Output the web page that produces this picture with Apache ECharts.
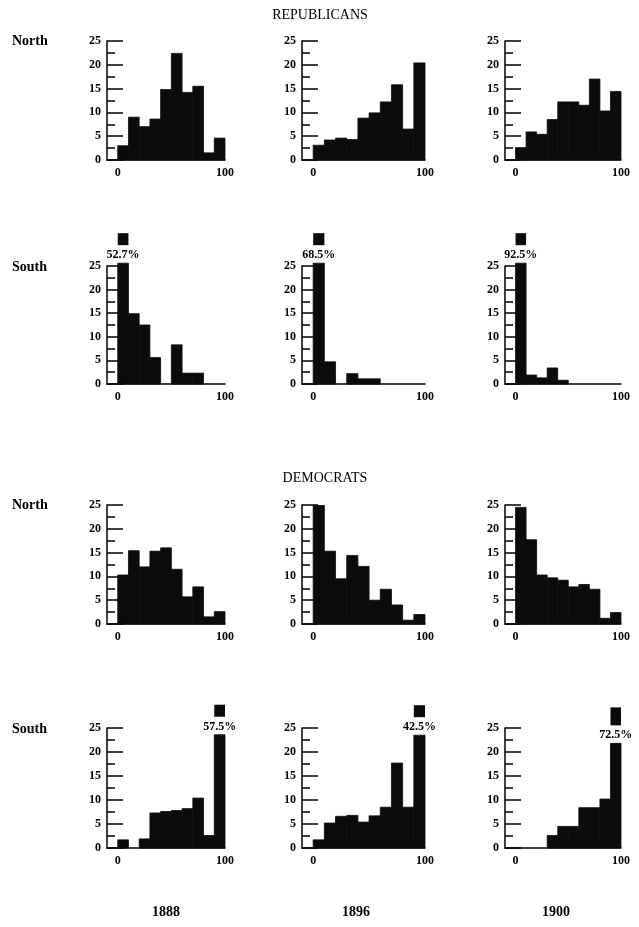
<!DOCTYPE html>
<html>
<head>
<meta charset="UTF-8">
<script src="https://cdn.jsdelivr.net/npm/echarts@6/dist/echarts.min.js"></script>
<style>body{margin:0;background:#fff;}</style>
</head>
<body>
<div id="main" style="width:639px;height:927px;"></div>
<script>
    // lower edge of each 10-point bin
    var binStarts = [0, 10, 20, 30, 40, 50, 60, 70, 80, 90];
    var years = ['1888', '1896', '1900'];
    var yTicks = [0, 5, 10, 15, 20, 25];

    var repNorth1888 = [3.0, 9.0, 7.0, 8.6, 14.8, 22.4, 14.2, 15.5, 1.5, 4.6];
    var repNorth1896 = [3.1, 4.2, 4.6, 4.3, 8.8, 9.9, 12.2, 15.8, 6.5, 20.4];
    var repNorth1900 = [2.6, 5.9, 5.4, 8.5, 12.2, 12.2, 11.5, 17.0, 10.3, 14.4];

    var repSouth1888 = [25.6, 14.9, 12.5, 5.6, 0, 8.3, 2.3, 2.3, 0, 0];
    var repSouth1896 = [25.6, 4.7, 0, 2.2, 1.1, 1.1, 0, 0, 0, 0];
    var repSouth1900 = [25.6, 1.9, 1.3, 3.4, 0.8, 0, 0, 0, 0, 0];

    var demNorth1888 = [10.3, 15.4, 12.0, 15.3, 16.0, 11.5, 5.7, 7.8, 1.5, 2.6];
    var demNorth1896 = [24.9, 15.3, 9.5, 14.4, 12.1, 5.0, 7.3, 4.0, 0.8, 2.0];
    var demNorth1900 = [24.5, 17.7, 10.3, 9.7, 9.2, 7.8, 8.3, 7.3, 1.2, 2.4];

    var demSouth1888 = [1.7, 0, 1.9, 7.3, 7.6, 7.8, 8.2, 10.4, 2.6, 23.6];
    var demSouth1896 = [1.7, 5.2, 6.6, 6.8, 5.4, 6.7, 8.5, 17.7, 8.5, 23.5];
    var demSouth1900 = [0, 0, 0, 2.6, 4.5, 4.5, 8.4, 8.4, 10.2, 21.8];

    // bars that run off the scale, with their printed share
    var repSouthTop = ['52.7%', '68.5%', '92.5%'];
    var demSouthTop = ['57.5%', '42.5%', '72.5%'];

    var panels = [
        {row: 0, col: 0, data: repNorth1888},
        {row: 0, col: 1, data: repNorth1896},
        {row: 0, col: 2, data: repNorth1900},
        {row: 1, col: 0, data: repSouth1888, topBin: 0, topText: repSouthTop[0]},
        {row: 1, col: 1, data: repSouth1896, topBin: 0, topText: repSouthTop[1]},
        {row: 1, col: 2, data: repSouth1900, topBin: 0, topText: repSouthTop[2]},
        {row: 2, col: 0, data: demNorth1888},
        {row: 2, col: 1, data: demNorth1896},
        {row: 2, col: 2, data: demNorth1900},
        {row: 3, col: 0, data: demSouth1888, topBin: 9, topText: demSouthTop[0]},
        {row: 3, col: 1, data: demSouth1896, topBin: 9, topText: demSouthTop[1]},
        {row: 3, col: 2, data: demSouth1900, topBin: 9, topText: demSouthTop[2], boxH: 18}
    ];

    var colLeft = [107, 302, 505], colWidth = [118, 123, 116];
    var rowTop = [41, 266, 505, 728], rowHeight = [119, 118, 119, 120];
    var serif = '"Liberation Serif", "DejaVu Serif", serif';
    var ink = '#0b0b0b';

    var grids = [], xAxes = [], yAxes = [], series = [];

    function makeRender(panel) {
        return function (params, api) {
            var lo = api.value(0), v = api.value(1);
            var a = api.coord([lo, 0]);
            var b = api.coord([lo + 10, v]);
            var h = a[1] - b[1];
            var kids = [{
                type: 'rect',
                shape: {x: a[0], y: b[1], width: b[0] - a[0], height: h},
                style: {fill: ink, stroke: h > 0 ? ink : null, lineWidth: 0.8}
            }];
            if (panel.topBin === params.dataIndex) {
                var boxH = panel.boxH || 12;
                kids.push({
                    type: 'rect',
                    shape: {x: a[0], y: b[1] - 18 - boxH, width: b[0] - a[0], height: boxH},
                    style: {fill: ink}
                });
                kids.push({
                    type: 'text',
                    style: {
                        text: panel.topText, x: (a[0] + b[0]) / 2, y: b[1] - 8,
                        align: 'center', verticalAlign: 'middle',
                        font: 'bold 12px ' + serif, fill: '#000'
                    }
                });
            }
            return {type: 'group', children: kids};
        };
    }

    panels.forEach(function (p, i) {
        grids.push({
            left: colLeft[p.col], top: rowTop[p.row],
            width: colWidth[p.col], height: rowHeight[p.row]
        });
        xAxes.push({
            gridIndex: i, type: 'value', min: -10, max: 100, interval: 10,
            axisLine: {onZero: false, lineStyle: {color: '#000', width: 1.5}},
            axisTick: {show: false},
            splitLine: {show: false},
            axisLabel: {
                margin: 7, color: '#000', fontFamily: serif, fontWeight: 'bold', fontSize: 12,
                formatter: function (v) { return (v === 0 || v === 100) ? String(v) : ''; }
            }
        });
        yAxes.push({
            gridIndex: i, type: 'value', min: yTicks[0], max: yTicks[yTicks.length - 1], interval: 5,
            axisLine: {show: true, onZero: false, lineStyle: {color: '#000', width: 1.5}},
            axisTick: {show: true, inside: true, length: 16, lineStyle: {color: '#000', width: 1.5}},
            minorTick: {show: true, splitNumber: 2, length: 8, lineStyle: {color: '#000', width: 1.5}},
            splitLine: {show: false},
            axisLabel: {margin: 6, color: '#000', fontFamily: serif, fontWeight: 'bold', fontSize: 12}
        });
        series.push({
            type: 'custom',
            xAxisIndex: i, yAxisIndex: i,
            clip: false,
            renderItem: makeRender(p),
            encode: {x: 0, y: 1},
            data: binStarts.map(function (b, k) { return [b, p.data[k]]; })
        });
    });

    var texts = [
        {text: 'REPUBLICANS', x: 320, y: 15, font: '14px ' + serif, align: 'center'},
        {text: 'DEMOCRATS', x: 325, y: 478, font: '14px ' + serif, align: 'center'},
        {text: 'North', x: 12, y: 41, font: 'bold 14px ' + serif, align: 'left'},
        {text: 'South', x: 12, y: 267, font: 'bold 14px ' + serif, align: 'left'},
        {text: 'North', x: 12, y: 505, font: 'bold 14px ' + serif, align: 'left'},
        {text: 'South', x: 12, y: 729, font: 'bold 14px ' + serif, align: 'left'}
    ];
    var yearX = [166, 356, 556];
    years.forEach(function (y, k) {
        texts.push({text: y, x: yearX[k], y: 912, font: 'bold 14px ' + serif, align: 'center'});
    });

    var chart = echarts.init(document.getElementById('main'), null, {renderer: 'canvas'});
    chart.setOption({
        backgroundColor: '#fff',
        animation: false,
        grid: grids,
        xAxis: xAxes,
        yAxis: yAxes,
        series: series,
        graphic: texts.map(function (t) {
            return {
                type: 'text', x: t.x, y: t.y,
                style: {text: t.text, font: t.font, fill: '#000', align: t.align, verticalAlign: 'middle'}
            };
        })
    });
</script>
</body>
</html>
